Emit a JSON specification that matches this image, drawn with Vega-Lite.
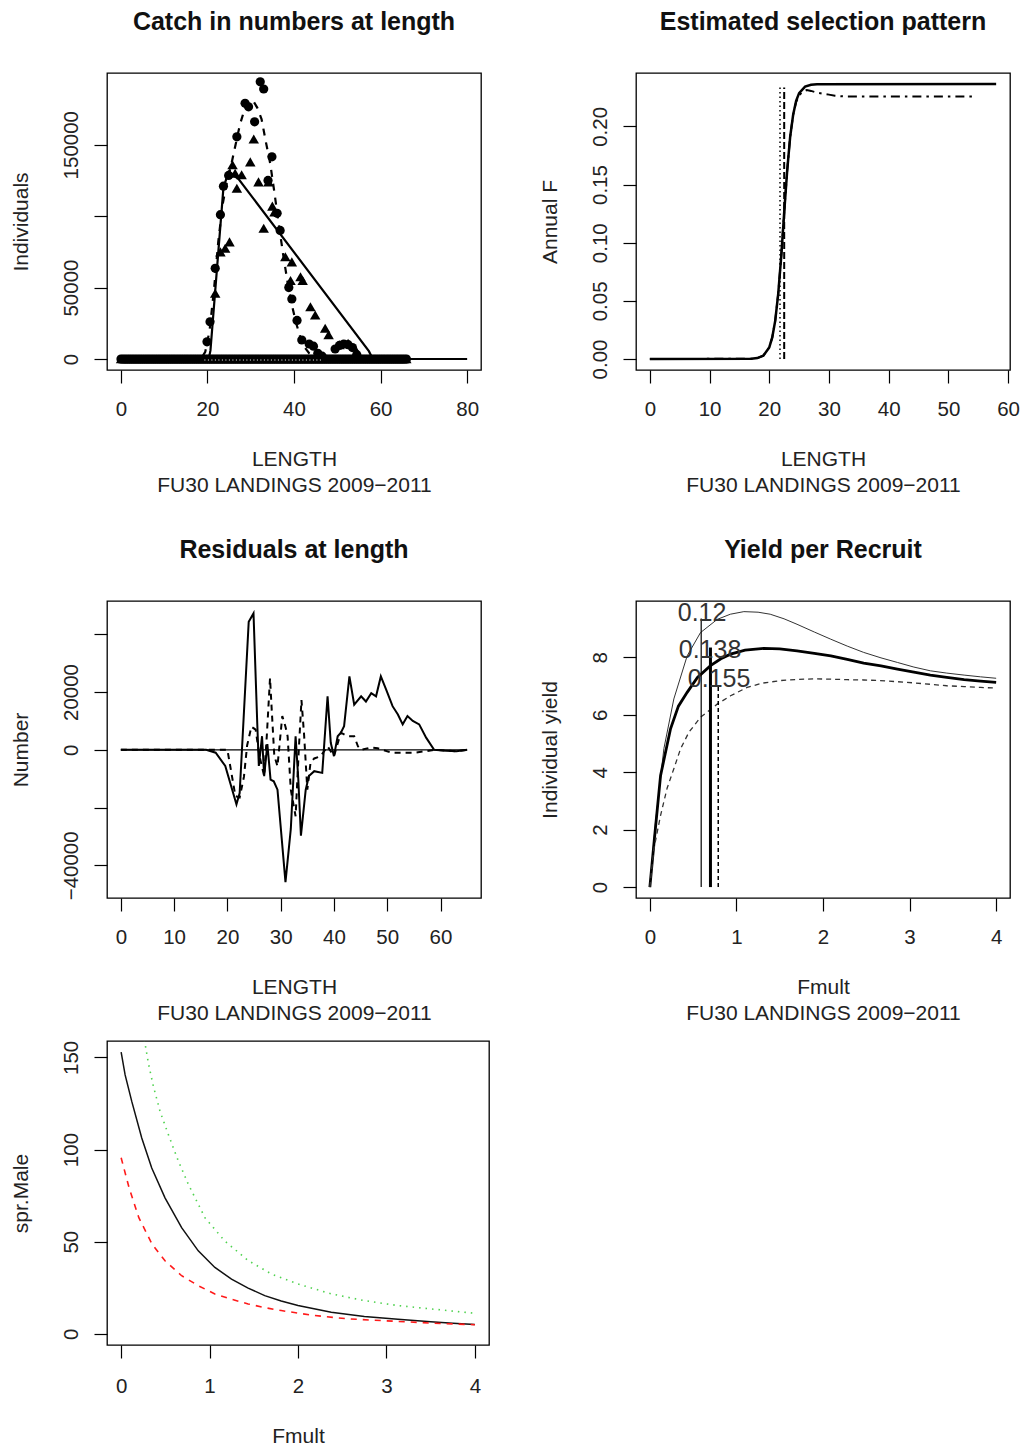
{
"$schema": "https://vega.github.io/schema/vega-lite/v6.json",
"background": "white",
"padding": {"left": 9, "top": 9, "right": 2, "bottom": 0},
"bounds": "flush",
"spacing": 968,
"datasets": {
"p1zero": [{"x":0,"y":0},{"x":0.5,"y":0},{"x":1,"y":0},{"x":1.5,"y":0},{"x":2,"y":0},{"x":2.5,"y":0},{"x":3,"y":0},{"x":3.5,"y":0},{"x":4,"y":0},{"x":4.5,"y":0},{"x":5,"y":0},{"x":5.5,"y":0},{"x":6,"y":0},{"x":6.5,"y":0},{"x":7,"y":0},{"x":7.5,"y":0},{"x":8,"y":0},{"x":8.5,"y":0},{"x":9,"y":0},{"x":9.5,"y":0},{"x":10,"y":0},{"x":10.5,"y":0},{"x":11,"y":0},{"x":11.5,"y":0},{"x":12,"y":0},{"x":12.5,"y":0},{"x":13,"y":0},{"x":13.5,"y":0},{"x":14,"y":0},{"x":14.5,"y":0},{"x":15,"y":0},{"x":15.5,"y":0},{"x":16,"y":0},{"x":16.5,"y":0},{"x":17,"y":0},{"x":17.5,"y":0},{"x":18,"y":0},{"x":18.5,"y":0},{"x":19,"y":0},{"x":19.5,"y":0},{"x":20,"y":0},{"x":20.5,"y":0},{"x":21,"y":0},{"x":21.5,"y":0},{"x":22,"y":0},{"x":22.5,"y":0},{"x":23,"y":0},{"x":23.5,"y":0},{"x":24,"y":0},{"x":24.5,"y":0},{"x":25,"y":0},{"x":25.5,"y":0},{"x":26,"y":0},{"x":26.5,"y":0},{"x":27,"y":0},{"x":27.5,"y":0},{"x":28,"y":0},{"x":28.5,"y":0},{"x":29,"y":0},{"x":29.5,"y":0},{"x":30,"y":0},{"x":30.5,"y":0},{"x":31,"y":0},{"x":31.5,"y":0},{"x":32,"y":0},{"x":32.5,"y":0},{"x":33,"y":0},{"x":33.5,"y":0},{"x":34,"y":0},{"x":34.5,"y":0},{"x":35,"y":0},{"x":35.5,"y":0},{"x":36,"y":0},{"x":36.5,"y":0},{"x":37,"y":0},{"x":37.5,"y":0},{"x":38,"y":0},{"x":38.5,"y":0},{"x":39,"y":0},{"x":39.5,"y":0},{"x":40,"y":0},{"x":40.5,"y":0},{"x":41,"y":0},{"x":41.5,"y":0},{"x":42,"y":0},{"x":42.5,"y":0},{"x":43,"y":0},{"x":43.5,"y":0},{"x":44,"y":0},{"x":44.5,"y":0},{"x":45,"y":0},{"x":45.5,"y":0},{"x":46,"y":0},{"x":46.5,"y":0},{"x":47,"y":0},{"x":47.5,"y":0},{"x":48,"y":0},{"x":48.5,"y":0},{"x":49,"y":0},{"x":49.5,"y":0},{"x":50,"y":0},{"x":50.5,"y":0},{"x":51,"y":0},{"x":51.5,"y":0},{"x":52,"y":0},{"x":52.5,"y":0},{"x":53,"y":0},{"x":53.5,"y":0},{"x":54,"y":0},{"x":54.5,"y":0},{"x":55,"y":0},{"x":55.5,"y":0},{"x":56,"y":0},{"x":56.5,"y":0},{"x":57,"y":0},{"x":57.5,"y":0},{"x":58,"y":0},{"x":58.5,"y":0},{"x":59,"y":0},{"x":59.5,"y":0},{"x":60,"y":0},{"x":60.5,"y":0},{"x":61,"y":0},{"x":61.5,"y":0},{"x":62,"y":0},{"x":62.5,"y":0},{"x":63,"y":0},{"x":63.5,"y":0},{"x":64,"y":0},{"x":64.5,"y":0},{"x":65,"y":0},{"x":65.5,"y":0},{"x":66,"y":0}],
"p1c": [{"x":19.9,"y":12000},{"x":20.6,"y":26000},{"x":21.8,"y":63500},{"x":23.0,"y":101000},{"x":23.7,"y":121000},{"x":24.9,"y":128500},{"x":26.8,"y":155500},{"x":28.7,"y":179000},{"x":29.5,"y":176500},{"x":30.9,"y":166000},{"x":32.2,"y":194000},{"x":33.0,"y":189000},{"x":34.0,"y":125000},{"x":34.9,"y":141500},{"x":36.1,"y":102000},{"x":36.8,"y":90000},{"x":38.8,"y":50000},{"x":39.5,"y":42000},{"x":40.7,"y":27000},{"x":41.8,"y":13300},{"x":43.5,"y":10500},{"x":44.5,"y":9000},{"x":45.5,"y":4000},{"x":46.5,"y":2000},{"x":49.5,"y":7000},{"x":50.5,"y":9500},{"x":51.5,"y":10500},{"x":52.5,"y":10000},{"x":53.5,"y":8000},{"x":54.5,"y":3000}],
"p1t": [{"x":21.8,"y":46000},{"x":23.0,"y":75000},{"x":24.1,"y":77500},{"x":25.1,"y":82000},{"x":25.8,"y":136000},{"x":26.4,"y":130000},{"x":26.8,"y":119500},{"x":27.9,"y":129000},{"x":29.9,"y":138000},{"x":30.7,"y":154000},{"x":31.8,"y":124000},{"x":33.0,"y":91500},{"x":34.1,"y":124000},{"x":35.0,"y":107000},{"x":35.5,"y":103000},{"x":38.0,"y":71600},{"x":39.2,"y":55000},{"x":39.5,"y":68000},{"x":41.5,"y":57600},{"x":42.0,"y":55000},{"x":43.8,"y":36600},{"x":44.9,"y":30800},{"x":47.2,"y":21500},{"x":48.0,"y":17000},{"x":50.5,"y":10000},{"x":52.5,"y":11000},{"x":54.5,"y":5000}],
"p1s": [{"x":0,"y":0},{"x":20.3,"y":0},{"x":20.7,"y":6000},{"x":23.7,"y":120000},{"x":24.9,"y":131000},{"x":27.2,"y":126000},{"x":57.3,"y":5500},{"x":58.2,"y":0},{"x":80,"y":0}],
"p1d": [{"x":0,"y":0},{"x":18.5,"y":0},{"x":19.5,"y":5000},{"x":20.5,"y":20000},{"x":21.5,"y":48000},{"x":22.5,"y":82000},{"x":23.5,"y":108000},{"x":24.5,"y":124000},{"x":25.5,"y":136000},{"x":26.5,"y":150000},{"x":27.5,"y":164000},{"x":28.5,"y":174000},{"x":29.5,"y":180000},{"x":30.5,"y":181000},{"x":31.5,"y":176000},{"x":32.5,"y":168000},{"x":33.5,"y":152000},{"x":34.5,"y":137000},{"x":35.5,"y":116000},{"x":36.5,"y":94000},{"x":37.5,"y":73000},{"x":38.5,"y":54000},{"x":39.5,"y":38000},{"x":40.5,"y":25000},{"x":41.5,"y":15000},{"x":42.5,"y":8000},{"x":43.5,"y":4000},{"x":44.5,"y":1500},{"x":45.5,"y":0},{"x":66,"y":0}],
"p1w": [{"x":19.3,"y":-700},{"x":46.6,"y":-700}],
"p2s": [{"x":0,"y":0},{"x":17,"y":0.0002},{"x":18,"y":0.0008},{"x":19,"y":0.0028},{"x":20,"y":0.010},{"x":20.5,"y":0.0185},{"x":21,"y":0.033},{"x":21.5,"y":0.056},{"x":22,"y":0.088},{"x":22.5,"y":0.126},{"x":23,"y":0.162},{"x":23.5,"y":0.191},{"x":24,"y":0.210},{"x":24.5,"y":0.222},{"x":25,"y":0.2286},{"x":26,"y":0.2342},{"x":27,"y":0.2358},{"x":28,"y":0.2363},{"x":58,"y":0.2364}],
"p2d": [{"x":0,"y":0},{"x":17,"y":0.0002},{"x":18,"y":0.0008},{"x":19,"y":0.0028},{"x":20,"y":0.010},{"x":20.5,"y":0.0185},{"x":21,"y":0.033},{"x":21.5,"y":0.056},{"x":22,"y":0.088},{"x":22.5,"y":0.126},{"x":23,"y":0.162},{"x":23.5,"y":0.191},{"x":24,"y":0.210},{"x":24.5,"y":0.221},{"x":25,"y":0.2265},{"x":25.5,"y":0.2295},{"x":26.3,"y":0.2313},{"x":27,"y":0.2305},{"x":28,"y":0.229},{"x":29,"y":0.228},{"x":30,"y":0.2273},{"x":31,"y":0.2264},{"x":32.4,"y":0.2258},{"x":54,"y":0.2258}],
"p2v1": [{"x":21.8,"y":0,"y2":0.2335}],
"p2v2": [{"x":22.5,"y":0,"y2":0.2335}],
"p3z": [{"x":0,"y":0},{"x":65,"y":0}],
"p3s": [{"x":0,"y":0},{"x":16,"y":0},{"x":17.8,"y":-1000},{"x":19.6,"y":-5600},{"x":20.9,"y":-13800},{"x":21.7,"y":-18900},{"x":22.3,"y":-15000},{"x":24.0,"y":44300},{"x":24.9,"y":47200},{"x":25.6,"y":9300},{"x":25.9,"y":-5600},{"x":26.5,"y":4700},{"x":26.9,"y":-9100},{"x":27.5,"y":2000},{"x":28.1,"y":-10300},{"x":28.7,"y":-10900},{"x":29.4,"y":-13800},{"x":30.9,"y":-45800},{"x":31.9,"y":-27400},{"x":32.8,"y":4700},{"x":33.3,"y":-10000},{"x":33.8,"y":-29700},{"x":34.7,"y":-13800},{"x":35.3,"y":-9100},{"x":36.3,"y":-7400},{"x":37.8,"y":-8000},{"x":38.8,"y":18500},{"x":39.4,"y":2400},{"x":40.0,"y":-2200},{"x":40.7,"y":4700},{"x":41.3,"y":5900},{"x":41.9,"y":8200},{"x":42.9,"y":25400},{"x":43.8,"y":15600},{"x":45.1,"y":18500},{"x":46.0,"y":16700},{"x":47.0,"y":19600},{"x":47.9,"y":18500},{"x":48.8,"y":25400},{"x":49.8,"y":20800},{"x":51.0,"y":15100},{"x":52.0,"y":12200},{"x":52.9,"y":8800},{"x":53.8,"y":11700},{"x":54.8,"y":10000},{"x":56.0,"y":8800},{"x":57.3,"y":4200},{"x":58.8,"y":0},{"x":61,"y":-300},{"x":63,"y":-500},{"x":65,"y":0}],
"p3d": [{"x":0,"y":0},{"x":20,"y":0},{"x":21.5,"y":-16000},{"x":22.3,"y":-16500},{"x":23.1,"y":-9400},{"x":23.7,"y":1500},{"x":24.5,"y":8000},{"x":25.3,"y":7000},{"x":26.0,"y":-2000},{"x":26.9,"y":-9100},{"x":27.4,"y":5000},{"x":28.0,"y":24800},{"x":28.3,"y":14500},{"x":28.8,"y":-2000},{"x":29.4,"y":-5700},{"x":30.3,"y":11700},{"x":30.9,"y":8000},{"x":31.3,"y":4700},{"x":31.9,"y":-13800},{"x":32.8,"y":-23000},{"x":33.4,"y":0},{"x":33.9,"y":17200},{"x":34.4,"y":5000},{"x":35.0,"y":-13800},{"x":35.6,"y":-4500},{"x":36.3,"y":-3000},{"x":37.5,"y":-2200},{"x":38.8,"y":1200},{"x":40.0,"y":-2200},{"x":41.3,"y":5900},{"x":42.5,"y":4700},{"x":43.8,"y":4700},{"x":44.5,"y":1200},{"x":45.1,"y":0},{"x":47,"y":800},{"x":48.2,"y":500},{"x":50.8,"y":-1000},{"x":55.2,"y":-1000},{"x":59,"y":0},{"x":62.8,"y":-500},{"x":65,"y":0}],
"p4a": [{"x":0,"y":0},{"x":0.066,"y":2.28},{"x":0.162,"y":4.82},{"x":0.277,"y":6.55},{"x":0.431,"y":8.05},{"x":0.585,"y":8.86},{"x":0.778,"y":9.32},{"x":0.93,"y":9.5},{"x":1.086,"y":9.59},{"x":1.25,"y":9.57},{"x":1.39,"y":9.5},{"x":1.55,"y":9.34},{"x":1.7,"y":9.15},{"x":1.9,"y":8.88},{"x":2.09,"y":8.63},{"x":2.28,"y":8.39},{"x":2.47,"y":8.17},{"x":2.67,"y":7.98},{"x":2.86,"y":7.82},{"x":3.05,"y":7.66},{"x":3.24,"y":7.53},{"x":3.43,"y":7.45},{"x":3.63,"y":7.38},{"x":3.82,"y":7.32},{"x":4.0,"y":7.27}],
"p4b": [{"x":0,"y":0},{"x":0.05,"y":1.6},{"x":0.124,"y":3.89},{"x":0.239,"y":5.51},{"x":0.33,"y":6.3},{"x":0.431,"y":6.78},{"x":0.55,"y":7.3},{"x":0.701,"y":7.71},{"x":0.82,"y":7.95},{"x":0.932,"y":8.11},{"x":1.1,"y":8.25},{"x":1.316,"y":8.31},{"x":1.5,"y":8.29},{"x":1.7,"y":8.22},{"x":1.9,"y":8.14},{"x":2.09,"y":8.05},{"x":2.28,"y":7.93},{"x":2.47,"y":7.8},{"x":2.67,"y":7.7},{"x":2.86,"y":7.59},{"x":3.05,"y":7.48},{"x":3.24,"y":7.38},{"x":3.43,"y":7.3},{"x":3.63,"y":7.22},{"x":3.82,"y":7.17},{"x":4.0,"y":7.13}],
"p4c": [{"x":0,"y":0},{"x":0.047,"y":1.33},{"x":0.124,"y":2.5},{"x":0.2,"y":3.45},{"x":0.277,"y":4.12},{"x":0.354,"y":4.81},{"x":0.451,"y":5.39},{"x":0.585,"y":5.91},{"x":0.778,"y":6.37},{"x":0.932,"y":6.66},{"x":1.124,"y":6.95},{"x":1.3,"y":7.1},{"x":1.51,"y":7.19},{"x":1.7,"y":7.23},{"x":1.89,"y":7.25},{"x":2.09,"y":7.24},{"x":2.28,"y":7.22},{"x":2.47,"y":7.21},{"x":2.66,"y":7.19},{"x":2.86,"y":7.15},{"x":3.05,"y":7.11},{"x":3.24,"y":7.06},{"x":3.43,"y":7.01},{"x":3.63,"y":6.98},{"x":3.82,"y":6.95},{"x":4.0,"y":6.93}],
"p4v1": [{"x":0.593,"y":0,"y2":9.35}],
"p4v2": [{"x":0.70,"y":0,"y2":8.34}],
"p4v3": [{"x":0.79,"y":0,"y2":7.05}],
"p4lab": [{"x":0.603,"y":9.55,"lab":"0.12"},{"x":0.695,"y":8.25,"lab":"0.138"},{"x":0.80,"y":7.24,"lab":"0.155"}],
"p5a": [{"x":0,"y":152.8},{"x":0.045,"y":140.5},{"x":0.12,"y":126.1},{"x":0.233,"y":106.3},{"x":0.346,"y":90.0},{"x":0.496,"y":73.8},{"x":0.684,"y":57.6},{"x":0.872,"y":45.0},{"x":1.06,"y":36.0},{"x":1.248,"y":29.7},{"x":1.436,"y":24.8},{"x":1.624,"y":20.7},{"x":1.81,"y":17.8},{"x":2.0,"y":15.3},{"x":2.376,"y":11.7},{"x":2.75,"y":9.4},{"x":3.13,"y":7.9},{"x":3.5,"y":6.5},{"x":3.75,"y":5.7},{"x":4.0,"y":5.0}],
"p5b": [{"x":0,"y":95.5},{"x":0.09,"y":79.2},{"x":0.2,"y":63.0},{"x":0.35,"y":48.6},{"x":0.496,"y":39.6},{"x":0.684,"y":31.5},{"x":0.872,"y":26.1},{"x":1.06,"y":21.6},{"x":1.25,"y":18.7},{"x":1.436,"y":16.2},{"x":1.62,"y":14.2},{"x":1.81,"y":12.6},{"x":2.0,"y":11.2},{"x":2.19,"y":9.9},{"x":2.56,"y":8.1},{"x":3.13,"y":6.7},{"x":3.5,"y":5.8},{"x":4.0,"y":4.9}],
"p5c": [{"x":0.2,"y":177},{"x":0.27,"y":157.6},{"x":0.308,"y":146.8},{"x":0.365,"y":134.2},{"x":0.44,"y":120.7},{"x":0.534,"y":108.1},{"x":0.647,"y":93.7},{"x":0.76,"y":81.1},{"x":0.948,"y":63.0},{"x":1.17,"y":50.4},{"x":1.44,"y":39.6},{"x":1.7,"y":32.4},{"x":2.0,"y":27.0},{"x":2.38,"y":21.6},{"x":2.75,"y":18.0},{"x":3.13,"y":15.3},{"x":3.5,"y":13.5},{"x":4.0,"y":11.1}]
},
"vconcat": [
{
"concat": [
{
"width": 374, "height": 297,
"title": "Catch in numbers at length",
"encoding": {
"x": {"field": "x", "type": "quantitative", "scale": {"domain": [-3.2, 83.2], "nice": false, "zero": false}, "axis": {"values": [0, 20, 40, 60, 80], "title": ["LENGTH", "FU30 LANDINGS 2009−2011"], "titleX": 187, "titleY": 95.5}},
"y": {"field": "y", "type": "quantitative", "scale": {"domain": [-7700, 200200], "nice": false, "zero": false}, "axis": {"values": [0, 50000, 100000, 150000], "format": "d", "labelExpr": "datum.value == 100000 ? '' : datum.label", "title": "Individuals", "titleX": -80, "titleY": 148.5}}
},
"layer": [
{"data": {"name": "p1zero"}, "mark": {"type": "point", "shape": "circle", "filled": true, "size": 80, "color": "#000", "opacity": 1}},
{"data": {"name": "p1zero"}, "mark": {"type": "point", "shape": "triangle-up", "filled": true, "size": 100, "color": "#000", "opacity": 1}},
{"data": {"name": "p1c"}, "mark": {"type": "point", "shape": "circle", "filled": true, "size": 85, "color": "#000", "opacity": 1}},
{"data": {"name": "p1t"}, "mark": {"type": "point", "shape": "triangle-up", "filled": true, "size": 110, "color": "#000", "opacity": 1}},
{"data": {"name": "p1s"}, "mark": {"type": "line", "color": "#000", "strokeWidth": 2.2}, "encoding": {}},
{"data": {"name": "p1d"}, "mark": {"type": "line", "color": "#000", "strokeWidth": 2.2, "strokeDash": [7, 7]}, "encoding": {}},
{"data": {"name": "p1w"}, "mark": {"type": "line", "color": "#fff", "strokeWidth": 1, "strokeDash": [1, 2.5]}, "encoding": {}}
]
},
{
"width": 374, "height": 297,
"title": "Estimated selection pattern",
"encoding": {
"x": {"field": "x", "type": "quantitative", "scale": {"domain": [-2.32, 60.32], "nice": false, "zero": false}, "axis": {"values": [0, 10, 20, 30, 40, 50, 60], "title": ["LENGTH", "FU30 LANDINGS 2009−2011"], "titleX": 187, "titleY": 95.5}},
"y": {"field": "y", "type": "quantitative", "scale": {"domain": [-0.00946, 0.2459], "nice": false, "zero": false}, "axis": {"values": [0, 0.05, 0.1, 0.15, 0.2], "format": ".2f", "title": "Annual F", "titleX": -80, "titleY": 148.5}}
},
"layer": [
{"data": {"name": "p2s"}, "mark": {"type": "line", "color": "#000", "strokeWidth": 2.5}, "encoding": {}},
{"data": {"name": "p2d"}, "mark": {"type": "line", "color": "#000", "strokeWidth": 2, "strokeDash": [9, 5, 2.5, 5]}, "encoding": {}},
{"data": {"name": "p2v1"}, "mark": {"type": "rule", "color": "#000", "strokeWidth": 1.5, "strokeDash": [1.5, 3]}, "encoding": {"y2": {"field": "y2"}}},
{"data": {"name": "p2v2"}, "mark": {"type": "rule", "color": "#000", "strokeWidth": 2, "strokeDash": [7, 3]}, "encoding": {"y2": {"field": "y2"}}}
]
},
{
"width": 374, "height": 297,
"title": "Residuals at length",
"encoding": {
"x": {"field": "x", "type": "quantitative", "scale": {"domain": [-2.6, 67.6], "nice": false, "zero": false}, "axis": {"values": [0, 10, 20, 30, 40, 50, 60], "title": ["LENGTH", "FU30 LANDINGS 2009−2011"], "titleX": 187, "titleY": 95.5}},
"y": {"field": "y", "type": "quantitative", "scale": {"domain": [-51300, 51500], "nice": false, "zero": false}, "axis": {"values": [-40000, -20000, 0, 20000, 40000], "format": "d", "labelExpr": "datum.value == 40000 || datum.value == -20000 ? '' : datum.label", "title": "Number", "titleX": -80, "titleY": 148.5}}
},
"layer": [
{"data": {"name": "p3z"}, "mark": {"type": "line", "color": "#000", "strokeWidth": 1.3}, "encoding": {}},
{"data": {"name": "p3s"}, "mark": {"type": "line", "color": "#000", "strokeWidth": 2}, "encoding": {}},
{"data": {"name": "p3d"}, "mark": {"type": "line", "color": "#000", "strokeWidth": 2, "strokeDash": [6, 5]}, "encoding": {}}
]
},
{
"width": 374, "height": 297,
"title": "Yield per Recruit",
"encoding": {
"x": {"field": "x", "type": "quantitative", "scale": {"domain": [-0.16, 4.16], "nice": false, "zero": false}, "axis": {"values": [0, 1, 2, 3, 4], "title": ["Fmult", "FU30 LANDINGS 2009−2011"], "titleX": 187, "titleY": 95.5}},
"y": {"field": "y", "type": "quantitative", "scale": {"domain": [-0.38, 9.96], "nice": false, "zero": false}, "axis": {"values": [0, 2, 4, 6, 8], "format": "d", "title": "Individual yield", "titleX": -80, "titleY": 148.5}}
},
"layer": [
{"data": {"name": "p4a"}, "mark": {"type": "line", "color": "#333", "strokeWidth": 1}, "encoding": {}},
{"data": {"name": "p4b"}, "mark": {"type": "line", "color": "#000", "strokeWidth": 2.8}, "encoding": {}},
{"data": {"name": "p4c"}, "mark": {"type": "line", "color": "#333", "strokeWidth": 1.3, "strokeDash": [5, 4]}, "encoding": {}},
{"data": {"name": "p4v1"}, "mark": {"type": "rule", "color": "#000", "strokeWidth": 1.2}, "encoding": {"y2": {"field": "y2"}}},
{"data": {"name": "p4v2"}, "mark": {"type": "rule", "color": "#000", "strokeWidth": 3}, "encoding": {"y2": {"field": "y2"}}},
{"data": {"name": "p4v3"}, "mark": {"type": "rule", "color": "#000", "strokeWidth": 1.5, "strokeDash": [4, 3]}, "encoding": {"y2": {"field": "y2"}}},
{"data": {"name": "p4lab"}, "mark": {"type": "text", "font": "Liberation Sans", "fontSize": 25, "color": "#333", "align": "center", "baseline": "middle"}, "encoding": {"text": {"field": "lab"}}}
]
}
],
"columns": 2,
"spacing": {"row": 231, "column": 155},
"bounds": "flush"
},
{
"width": 382, "height": 304,
"encoding": {
"x": {"field": "x", "type": "quantitative", "scale": {"domain": [-0.16, 4.16], "nice": false, "zero": false}, "axis": {"values": [0, 1, 2, 3, 4], "labelPadding": 34, "title": "Fmult", "titleX": 191, "titleY": 97}},
"y": {"field": "y", "type": "quantitative", "scale": {"domain": [-6.1, 158.9], "nice": false, "zero": false}, "axis": {"values": [0, 50, 100, 150], "format": "d", "title": "spr.Male", "titleX": -80, "titleY": 152}}
},
"layer": [
{"data": {"name": "p5a"}, "mark": {"type": "line", "color": "#111", "strokeWidth": 1.5, "clip": true}, "encoding": {}},
{"data": {"name": "p5b"}, "mark": {"type": "line", "color": "#ff1a1a", "strokeWidth": 1.6, "strokeDash": [6, 6], "clip": true}, "encoding": {}},
{"data": {"name": "p5c"}, "mark": {"type": "line", "color": "#4fd24f", "strokeWidth": 1.6, "strokeDash": [1.5, 5], "clip": true}, "encoding": {}}
]
}
],
"config": {
"font": "Liberation Sans",
"view": {"stroke": "#000", "strokeWidth": 1.3},
"axis": {"domain": false, "grid": false, "tickColor": "#000", "tickSize": 13, "tickWidth": 1.2, "labelFont": "Liberation Sans", "labelFontSize": 20.5, "labelColor": "#222", "titleFont": "Liberation Sans", "titleFontSize": 21, "titleFontWeight": "normal", "titleColor": "#222", "labelOverlap": false, "labelFlush": false},
"axisX": {"labelAngle": 0, "labelBaseline": "alphabetic", "labelPadding": 32, "titleBaseline": "alphabetic", "titleLineHeight": 26, "titleAlign": "center", "titleAngle": 0},
"axisY": {"labelAngle": -90, "labelAlign": "center", "labelBaseline": "alphabetic", "labelPadding": 17, "titleAngle": -90, "titleBaseline": "alphabetic", "titleAlign": "center"},
"title": {"font": "Liberation Sans", "fontSize": 25, "fontWeight": "bold", "color": "#111", "anchor": "middle", "frame": "group", "baseline": "alphabetic", "offset": 38}
}
}
